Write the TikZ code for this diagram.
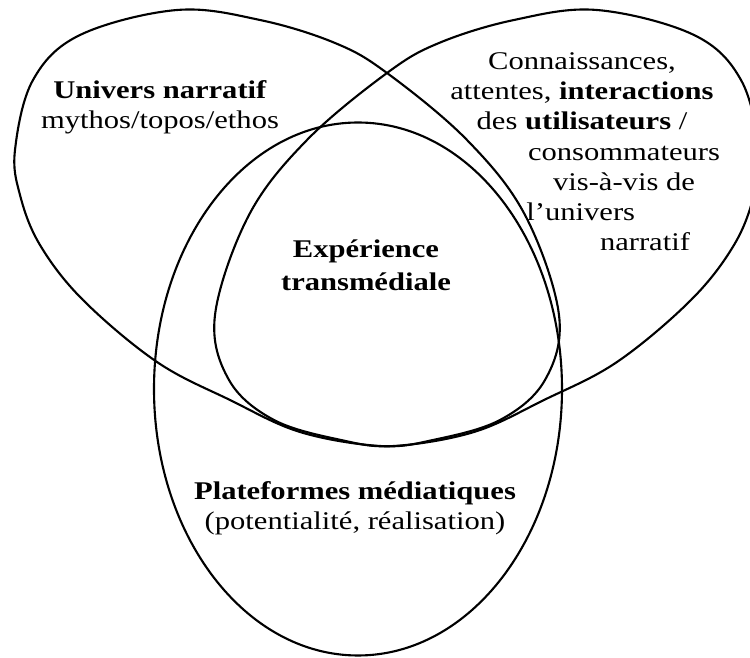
\documentclass[tikz,border=0pt]{standalone}
\usepackage{fontspec}
\setmainfont{Liberation Serif}
\usetikzlibrary{calc}

\tikzset{
  venn/.style={line width=1.2pt},
  lbl/.style={font=\fontsize{14.5}{17}\selectfont, align=center, inner sep=0pt,
    xscale=1.2, transform shape}
}

\begin{document}
\begin{tikzpicture}

% Frame
\newcommand{\picw}{15}
\newcommand{\pich}{13.16}
% Mirror axis of the two eggs
\newcommand{\mirrorx}{15.48}

% Left egg, the right one is its mirror image
\newcommand{\eggpath}{
  plot [smooth cycle, tension=0.6] coordinates {
    (0.30, 10.16) (0.66, 11.56) (1.60, 12.46) (3.54, 12.96) (5.20, 12.76)
    (6.70, 12.30) (7.74, 11.70) (9.34, 10.36) (10.50, 8.86) (11.18, 6.86)
    (10.90, 5.56) (10.00, 4.76) (8.66, 4.36) (7.60, 4.24) (6.00, 4.52)
    (4.60, 5.16) (3.14, 5.92) (1.66, 7.16) (0.80, 8.26) (0.40, 9.26)}
}

\useasboundingbox (0,0) rectangle (\picw, \pich);
\clip (0,0) rectangle (\picw, \pich);

% Univers narratif / utilisateurs
\draw [venn] \eggpath;
\draw [venn, xshift=\mirrorx cm, xscale=-1] \eggpath;
% Plateformes
\draw [venn] (7.16, 5.38) ellipse [x radius=4.08, y radius=5.33];

\node [lbl] (univ) at (3.20, 11.02) {\textbf{Univers narratif}\\mythos/topos/ethos};
\node [lbl] (users) at (11.64, 11.33) {Connaissances,\\attentes, \textbf{interactions}\\des \textbf{utilisateurs} /};
\node [lbl] (cons) at (12.48, 9.79) {consommateurs\\vis-à-vis de};
\node [lbl, anchor=base west] (luniv) at (10.52, 8.74) {l'univers};
\node [lbl, anchor=base] (narr) at (12.90, 8.14) {narratif};
\node [lbl, font=\fontsize{14.5}{17}\selectfont\bfseries] (exp) at (7.32, 7.86) {Expérience\\[1.7pt]transmédiale};
\node [lbl] (plat) at (7.10, 3.00) {\textbf{Plateformes médiatiques}\\(potentialité, réalisation)};

\end{tikzpicture}
\end{document}
